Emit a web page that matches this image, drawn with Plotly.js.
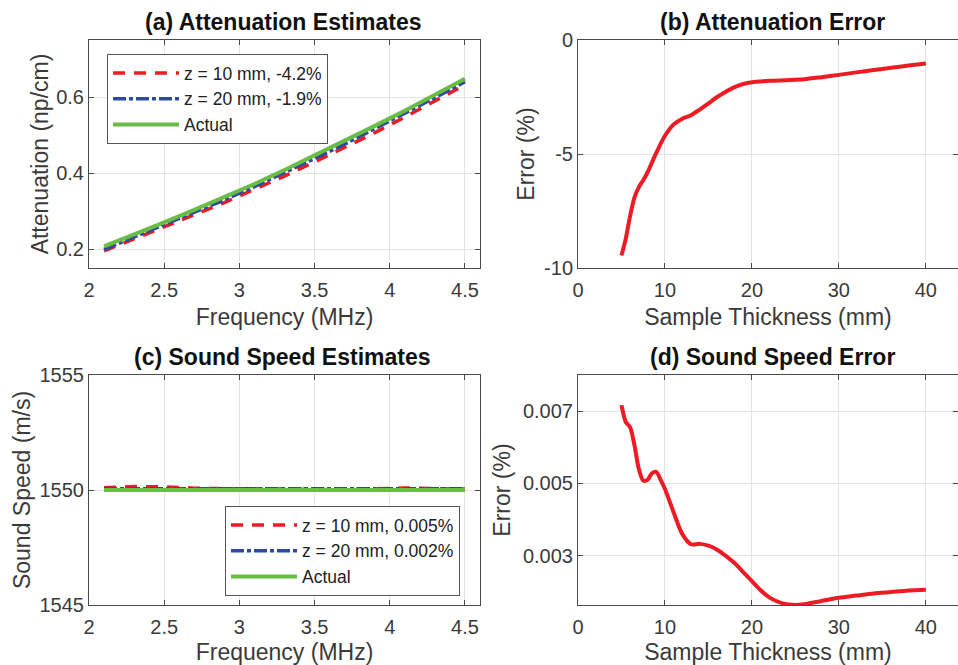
<!DOCTYPE html>
<html><head><meta charset="utf-8">
<script src="https://cdn.plot.ly/plotly-3.0.1.min.js"></script>
<style>html,body{margin:0;padding:0;background:#fff;} #chart{width:958px;height:665px;}</style>
</head><body><div id="chart"></div>
<script>
// ---- data ----
const freq = [2.1, 2.3, 2.5, 2.7, 2.9, 3.1, 3.3, 3.5, 3.7, 3.9, 4.1, 4.3, 4.5];
const attActual = [0.207, 0.238, 0.270, 0.303, 0.336, 0.371, 0.408, 0.446, 0.484, 0.524, 0.564, 0.606, 0.648];
const attZ10 = [0.195, 0.226, 0.258, 0.290, 0.322, 0.356, 0.392, 0.429, 0.467, 0.506, 0.547, 0.589, 0.632];
const attZ20 = [0.199, 0.231, 0.263, 0.296, 0.329, 0.364, 0.400, 0.438, 0.476, 0.516, 0.556, 0.598, 0.640];

const thickAtt = [5, 5.5, 6, 6.5, 7, 7.5, 8, 9, 10, 11, 12, 13, 14, 15, 16, 17, 18, 19, 20, 22, 24, 26, 28, 30, 32, 34, 36, 38, 40];
const attErr = [-9.45, -8.7, -7.7, -6.9, -6.45, -6.15, -5.8, -4.95, -4.2, -3.7, -3.45, -3.3, -3.05, -2.78, -2.5, -2.27, -2.07, -1.93, -1.85, -1.79, -1.76, -1.72, -1.63, -1.53, -1.42, -1.32, -1.22, -1.12, -1.03];

const ssActual = [1550, 1550, 1550, 1550, 1550, 1550, 1550, 1550, 1550, 1550, 1550, 1550, 1550];
const ssZ10 = [1550.10, 1550.15, 1550.14, 1550.08, 1550.06, 1550.05, 1550.04, 1550.03, 1550.02, 1550.05, 1550.09, 1550.06, 1550.04];
const ssZ20 = [1550.06, 1550.06, 1550.05, 1550.05, 1550.05, 1550.05, 1550.05, 1550.04, 1550.04, 1550.05, 1550.05, 1550.05, 1550.05];

const thickSS = [5, 5.5, 6, 6.5, 7, 7.5, 8, 8.5, 9, 9.5, 10, 11, 12, 13, 14, 15, 16, 17, 18, 19, 20, 21, 22, 23, 24, 25, 26, 28, 30, 32, 34, 36, 38, 40];
const ssErr = [0.00717, 0.0067, 0.00655, 0.00605, 0.0054, 0.00508, 0.0051, 0.00528, 0.00532, 0.0051, 0.00485, 0.0042, 0.0036, 0.00332, 0.00333, 0.00328, 0.00317, 0.003, 0.0028, 0.00255, 0.0023, 0.00205, 0.00185, 0.00173, 0.00166, 0.00164, 0.00166, 0.00175, 0.00184, 0.0019, 0.00196, 0.002, 0.00204, 0.00206];

const legA = ['z = 10 mm, -4.2%', 'z = 20 mm, -1.9%', 'Actual'];
const legC = ['z = 10 mm, 0.005%', 'z = 20 mm, 0.002%', 'Actual'];
const titles = ['(a) Attenuation Estimates', '(b) Attenuation Error', '(c) Sound Speed Estimates', '(d) Sound Speed Error'];

// ---- style ----
const RED = '#ED1C24', BLUE = '#2D4A9E', GREEN = '#68BD45';
const FONT = 'Liberation Sans, Arial, Helvetica, sans-serif';
const AX = '#4a4a4a', TXT = '#3a3a3a', GRID = '#e4e4e4';
const W = 958, H = 665;
const px = v => v / W, py = v => 1 - v / H;

const traces = [
  {x: freq, y: attZ10, xaxis: 'x', yaxis: 'y', name: legA[0], legend: 'legend', mode: 'lines',
   line: {color: RED, width: 3.5, dash: '12px,9px'}},
  {x: freq, y: attZ20, xaxis: 'x', yaxis: 'y', name: legA[1], legend: 'legend', mode: 'lines',
   line: {color: BLUE, width: 3.5, dash: '13px,3px,4px,3px'}},
  {x: freq, y: attActual, xaxis: 'x', yaxis: 'y', name: legA[2], legend: 'legend', mode: 'lines',
   line: {color: GREEN, width: 4}},
  {x: thickAtt, y: attErr, xaxis: 'x2', yaxis: 'y2', showlegend: false, mode: 'lines',
   line: {color: RED, width: 4, shape: 'spline', smoothing: 0.8}},
  {x: freq, y: ssZ10, xaxis: 'x3', yaxis: 'y3', name: legC[0], legend: 'legend2', mode: 'lines',
   line: {color: RED, width: 3.5, dash: '12px,9px'}},
  {x: freq, y: ssZ20, xaxis: 'x3', yaxis: 'y3', name: legC[1], legend: 'legend2', mode: 'lines',
   line: {color: BLUE, width: 3.5, dash: '13px,3px,4px,3px'}},
  {x: freq, y: ssActual, xaxis: 'x3', yaxis: 'y3', name: legC[2], legend: 'legend2', mode: 'lines',
   line: {color: GREEN, width: 4}},
  {x: thickSS, y: ssErr, xaxis: 'x4', yaxis: 'y4', showlegend: false, mode: 'lines',
   line: {color: RED, width: 4, shape: 'spline', smoothing: 0.8}}
];

function axis(extra) {
  return Object.assign({
    showline: true, linecolor: AX, linewidth: 1, mirror: 'ticks',
    ticks: 'inside', ticklen: 5, tickcolor: AX, tickwidth: 1,
    showgrid: true, gridcolor: GRID, gridwidth: 1, zeroline: false,
    tickfont: {family: FONT, size: 20, color: TXT},
    automargin: false, fixedrange: true
  }, extra);
}
const xax = extra => axis(Object.assign({ticklabelstandoff: 4}, extra));
const atitle = (t, s) => ({text: t, font: {family: FONT, size: 23, color: TXT}, standoff: s});

const dA = [px(89), px(480)], dB = [px(578), 1];
const dTop = [py(268), py(40)], dBot = [py(605), py(375)];

const layout = {
  width: W, height: H, margin: {l: 0, r: 0, t: 0, b: 0},
  paper_bgcolor: '#fff', plot_bgcolor: '#fff',
  font: {family: FONT},
  xaxis: xax({domain: dA, anchor: 'y', range: [2, 4.6], tickvals: [2, 2.5, 3, 3.5, 4, 4.5],
    ticktext: ['2', '2.5', '3', '3.5', '4', '4.5'], title: atitle('Frequency (MHz)', 8)}),
  yaxis: axis({domain: dTop, anchor: 'x', range: [0.15, 0.75], tickvals: [0.2, 0.4, 0.6],
    ticktext: ['0.2', '0.4', '0.6'], title: atitle('Attenuation (np/cm)', 1)}),
  xaxis2: xax({domain: dB, anchor: 'y2', range: [0, 43.7], tickvals: [0, 10, 20, 30, 40],
    ticktext: ['0', '10', '20', '30', '40'], title: atitle('Sample Thickness (mm)', 8)}),
  yaxis2: axis({domain: dTop, anchor: 'x2', range: [-10, 0], tickvals: [-10, -5, 0],
    ticktext: ['-10', '-5', '0'], title: atitle('Error (%)', 3)}),
  xaxis3: xax({domain: dA, anchor: 'y3', range: [2, 4.6], tickvals: [2, 2.5, 3, 3.5, 4, 4.5],
    ticktext: ['2', '2.5', '3', '3.5', '4', '4.5'], title: atitle('Frequency (MHz)', 8)}),
  yaxis3: axis({domain: dBot, anchor: 'x3', range: [1545, 1555], tickvals: [1545, 1550, 1555],
    ticktext: ['1545', '1550', '1555'], title: atitle('Sound Speed (m/s)', 2)}),
  xaxis4: xax({domain: dB, anchor: 'y4', range: [0, 43.7], tickvals: [0, 10, 20, 30, 40],
    ticktext: ['0', '10', '20', '30', '40'], title: atitle('Sample Thickness (mm)', 8)}),
  yaxis4: axis({domain: dBot, anchor: 'x4', range: [0.00164, 0.008], tickvals: [0.003, 0.005, 0.007],
    ticktext: ['0.003', '0.005', '0.007'], title: atitle('Error (%)', 5)}),
  legend: {x: px(107), y: py(54), xanchor: 'left', yanchor: 'top', bgcolor: '#fff',
    bordercolor: '#555', borderwidth: 1, font: {family: FONT, size: 17.5, color: '#222'},
    itemwidth: 66, tracegroupgap: 0},
  legend2: {x: px(225), y: py(506), xanchor: 'left', yanchor: 'top', bgcolor: '#fff',
    bordercolor: '#555', borderwidth: 1, font: {family: FONT, size: 17.5, color: '#222'},
    itemwidth: 66, tracegroupgap: 0},
  annotations: [
    {text: '<b>' + titles[0] + '</b>', x: px(283), y: py(22)},
    {text: '<b>' + titles[1] + '</b>', x: px(772), y: py(22)},
    {text: '<b>' + titles[2] + '</b>', x: px(282), y: py(357)},
    {text: '<b>' + titles[3] + '</b>', x: px(772), y: py(357)}
  ].map(a => Object.assign(a, {xref: 'paper', yref: 'paper', xanchor: 'center', yanchor: 'middle',
     showarrow: false, font: {family: FONT, size: 23, color: '#111'}}))
};

Plotly.newPlot('chart', traces, layout, {staticPlot: true, displayModeBar: false});
</script>
</body></html>
